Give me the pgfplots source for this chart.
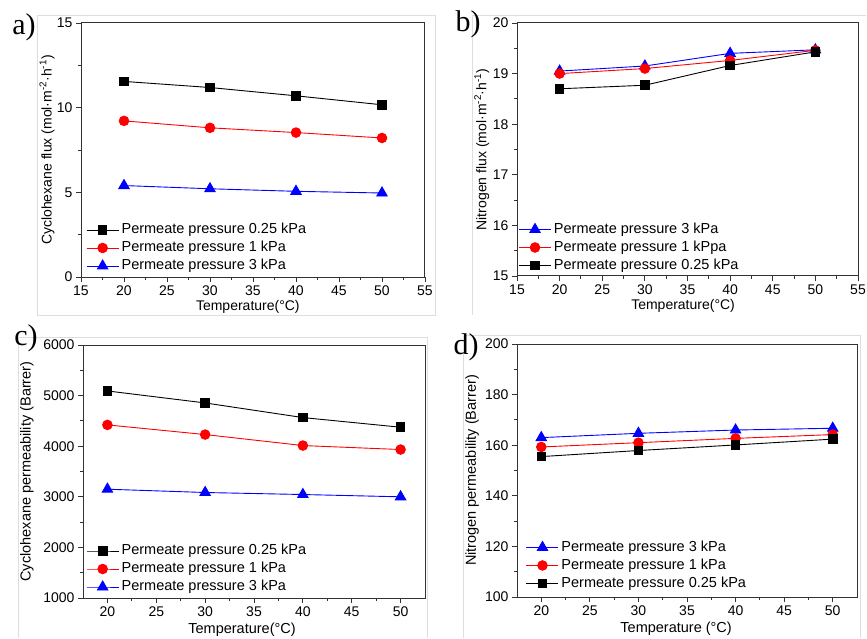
\documentclass[border=0pt]{standalone}
\usepackage{fontspec}
\setmainfont{Liberation Sans}
\newfontfamily\seriffont{Liberation Serif}
\usepackage{pgfplots}
\pgfplotsset{compat=1.18}

% shared look of the four Origin-style panels
\pgfplotsset{
  panel/.style={
    scale only axis, anchor=south west,
    axis line style={black!80, line width=1pt},
    tick align=outside, tick pos=left, minor tick num=1,
    major tick length=5pt, minor tick length=3pt,
    every tick/.style={black!80, line width=0.9pt},
    tick label style={font=\fontsize{14}{16}\selectfont},
    /pgf/number format/assume math mode=true,
    /pgf/number format/1000 sep={},
    label style={font=\fontsize{14}{16}\selectfont},
    xlabel={Temperature(°C)},
    legend cell align=left,
    legend style={draw=none, fill=none, anchor=south west, inner sep=0pt,
      row sep=4.5pt, font=\fontsize{14.5}{16}\selectfont,
      nodes={inner xsep=2.5pt, inner ysep=0pt, text height=10.5pt, text depth=3pt}},
    legend image code/.code={\draw[mark repeat=2, mark phase=2, ##1]
      plot coordinates {(0pt,0pt) (16pt,0pt) (32pt,0pt)};},
  },
  sblack/.style={black, line width=0.9pt, mark=square*, mark size=4.3pt, mark options={solid}},
  sred/.style={red, line width=0.9pt, mark=*, mark size=4.8pt, mark options={solid}},
  sblue/.style={blue, line width=0.9pt, mark=triangle*, mark size=6pt, mark options={solid}},
}

\begin{document}
\begin{tikzpicture}[x=1pt, y=1pt]
\useasboundingbox (0,0) rectangle (867,638);
% faint frames of the four sub-images
\draw[black!13, line width=0.8pt] (37,323) rectangle (435,623);
\draw[black!13, line width=0.8pt] (472,323) -- (472,623) -- (866,623);
\draw[black!13, line width=0.8pt] (18,0) -- (18,301) -- (427,301) -- (427,0);
\draw[black!13, line width=0.8pt] (463,0) -- (463,303) -- (860,303) -- (860,0);

% a) cyclohexane flux
\begin{axis}[panel, at={(81pt,361pt)}, width=344pt, height=254pt,
  xmin=15, xmax=55, xtick={15,20,...,55},
  ymin=0, ymax=15, ytick={0,5,10,15},
  ylabel={Cyclohexane flux (mol·m\textsuperscript{-2}·h\textsuperscript{-1})},
  ylabel style={at={(axis description cs:-0.099,0.5)}, anchor=center},
  xlabel style={at={(axis description cs:0.485,-0.118)}, anchor=center},
  legend style={at={(0.0145,0.016)}}]
\addplot[sblack] coordinates {(20,11.55) (30,11.19) (40,10.70) (50,10.17)};
\addlegendentry{Permeate pressure 0.25 kPa}
\addplot[sred] coordinates {(20,9.22) (30,8.81) (40,8.53) (50,8.21)};
\addlegendentry{Permeate pressure 1 kPa}
\addplot[sblue] coordinates {(20,5.40) (30,5.21) (40,5.06) (50,4.96)};
\addlegendentry{Permeate pressure 3 kPa}
\end{axis}

% b) nitrogen flux
\begin{axis}[panel, at={(517pt,362pt)}, width=341pt, height=253pt,
  xmin=15, xmax=55, xtick={15,20,...,55},
  ymin=15, ymax=20, ytick={15,16,...,20},
  ylabel={Nitrogen flux (mol·m\textsuperscript{-2}·h\textsuperscript{-1})},
  ylabel style={at={(axis description cs:-0.103,0.5)}, anchor=center},
  xlabel style={at={(axis description cs:0.487,-0.12)}, anchor=center},
  legend style={at={(0.004,0.014)}}]
\addplot[sblue] coordinates {(20,19.05) (30,19.15) (40,19.40) (50,19.47)};
\addlegendentry{Permeate pressure 3 kPa}
\addplot[sred] coordinates {(20,19.00) (30,19.10) (40,19.26) (50,19.46)};
\addlegendentry{Permeate pressure 1 kPpa}
\addplot[sblack] coordinates {(20,18.70) (30,18.77) (40,19.16) (50,19.43)};
\addlegendentry{Permeate pressure 0.25 kPa}
\end{axis}

% c) cyclohexane permeability
\begin{axis}[panel, at={(83pt,40pt)}, width=342pt, height=253pt,
  xmin=17.5, xmax=52.5, xtick={20,25,...,50},
  ylabel={Cyclohexane permeability (Barrer)},
  ymin=1000, ymax=6000, ytick={1000,2000,...,6000},
  label style={font=\fontsize{14.5}{16}\selectfont},
  ylabel style={at={(axis description cs:-0.164,0.5)}, anchor=center},
  xlabel style={at={(axis description cs:0.465,-0.126)}, anchor=center},
  legend style={at={(0.0088,0.016)}}]
\addplot[sblack] coordinates {(20,5092) (30,4855) (40,4566) (50,4375)};
\addlegendentry{Permeate pressure 0.25 kPa}
\addplot[sred] coordinates {(20,4421) (30,4230) (40,4013) (50,3934)};
\addlegendentry{Permeate pressure 1 kPa}
\addplot[sblue] coordinates {(20,3150) (30,3085) (40,3045) (50,3000)};
\addlegendentry{Permeate pressure 3 kPa}
\end{axis}

% d) nitrogen permeability
\begin{axis}[panel, at={(517pt,41pt)}, width=340pt, height=253pt,
  xmin=17.5, xmax=52.5, xtick={20,25,...,50},
  ymin=100, ymax=200, ytick={100,120,...,200},
  label style={font=\fontsize{14.5}{16}\selectfont},
  xlabel={Temperature (°C)},
  ylabel={Nitrogen permeability (Barrer)},
  ylabel style={at={(axis description cs:-0.132,0.5)}, anchor=center},
  xlabel style={at={(axis description cs:0.468,-0.126)}, anchor=center},
  legend style={at={(0.026,0.026)}}]
\addplot[sblue] coordinates {(20,163.0) (30,164.7) (40,166.0) (50,166.7)};
\addlegendentry{Permeate pressure 3 kPa}
\addplot[sred] coordinates {(20,159.3) (30,161.0) (40,162.7) (50,164.2)};
\addlegendentry{Permeate pressure 1 kPa}
\addplot[sblack] coordinates {(20,155.5) (30,157.9) (40,160.1) (50,162.4)};
\addlegendentry{Permeate pressure 0.25 kPa}
\end{axis}

% panel letters
\node[font=\seriffont\fontsize{30}{32}\selectfont] at (24,611) {a)};
\node[font=\seriffont\fontsize{30}{32}\selectfont] at (468,614) {b)};
\node[font=\seriffont\fontsize{30}{32}\selectfont] at (26,300) {c)};
\node[font=\seriffont\fontsize{30}{32}\selectfont] at (466,291) {d)};
\end{tikzpicture}
\end{document}
